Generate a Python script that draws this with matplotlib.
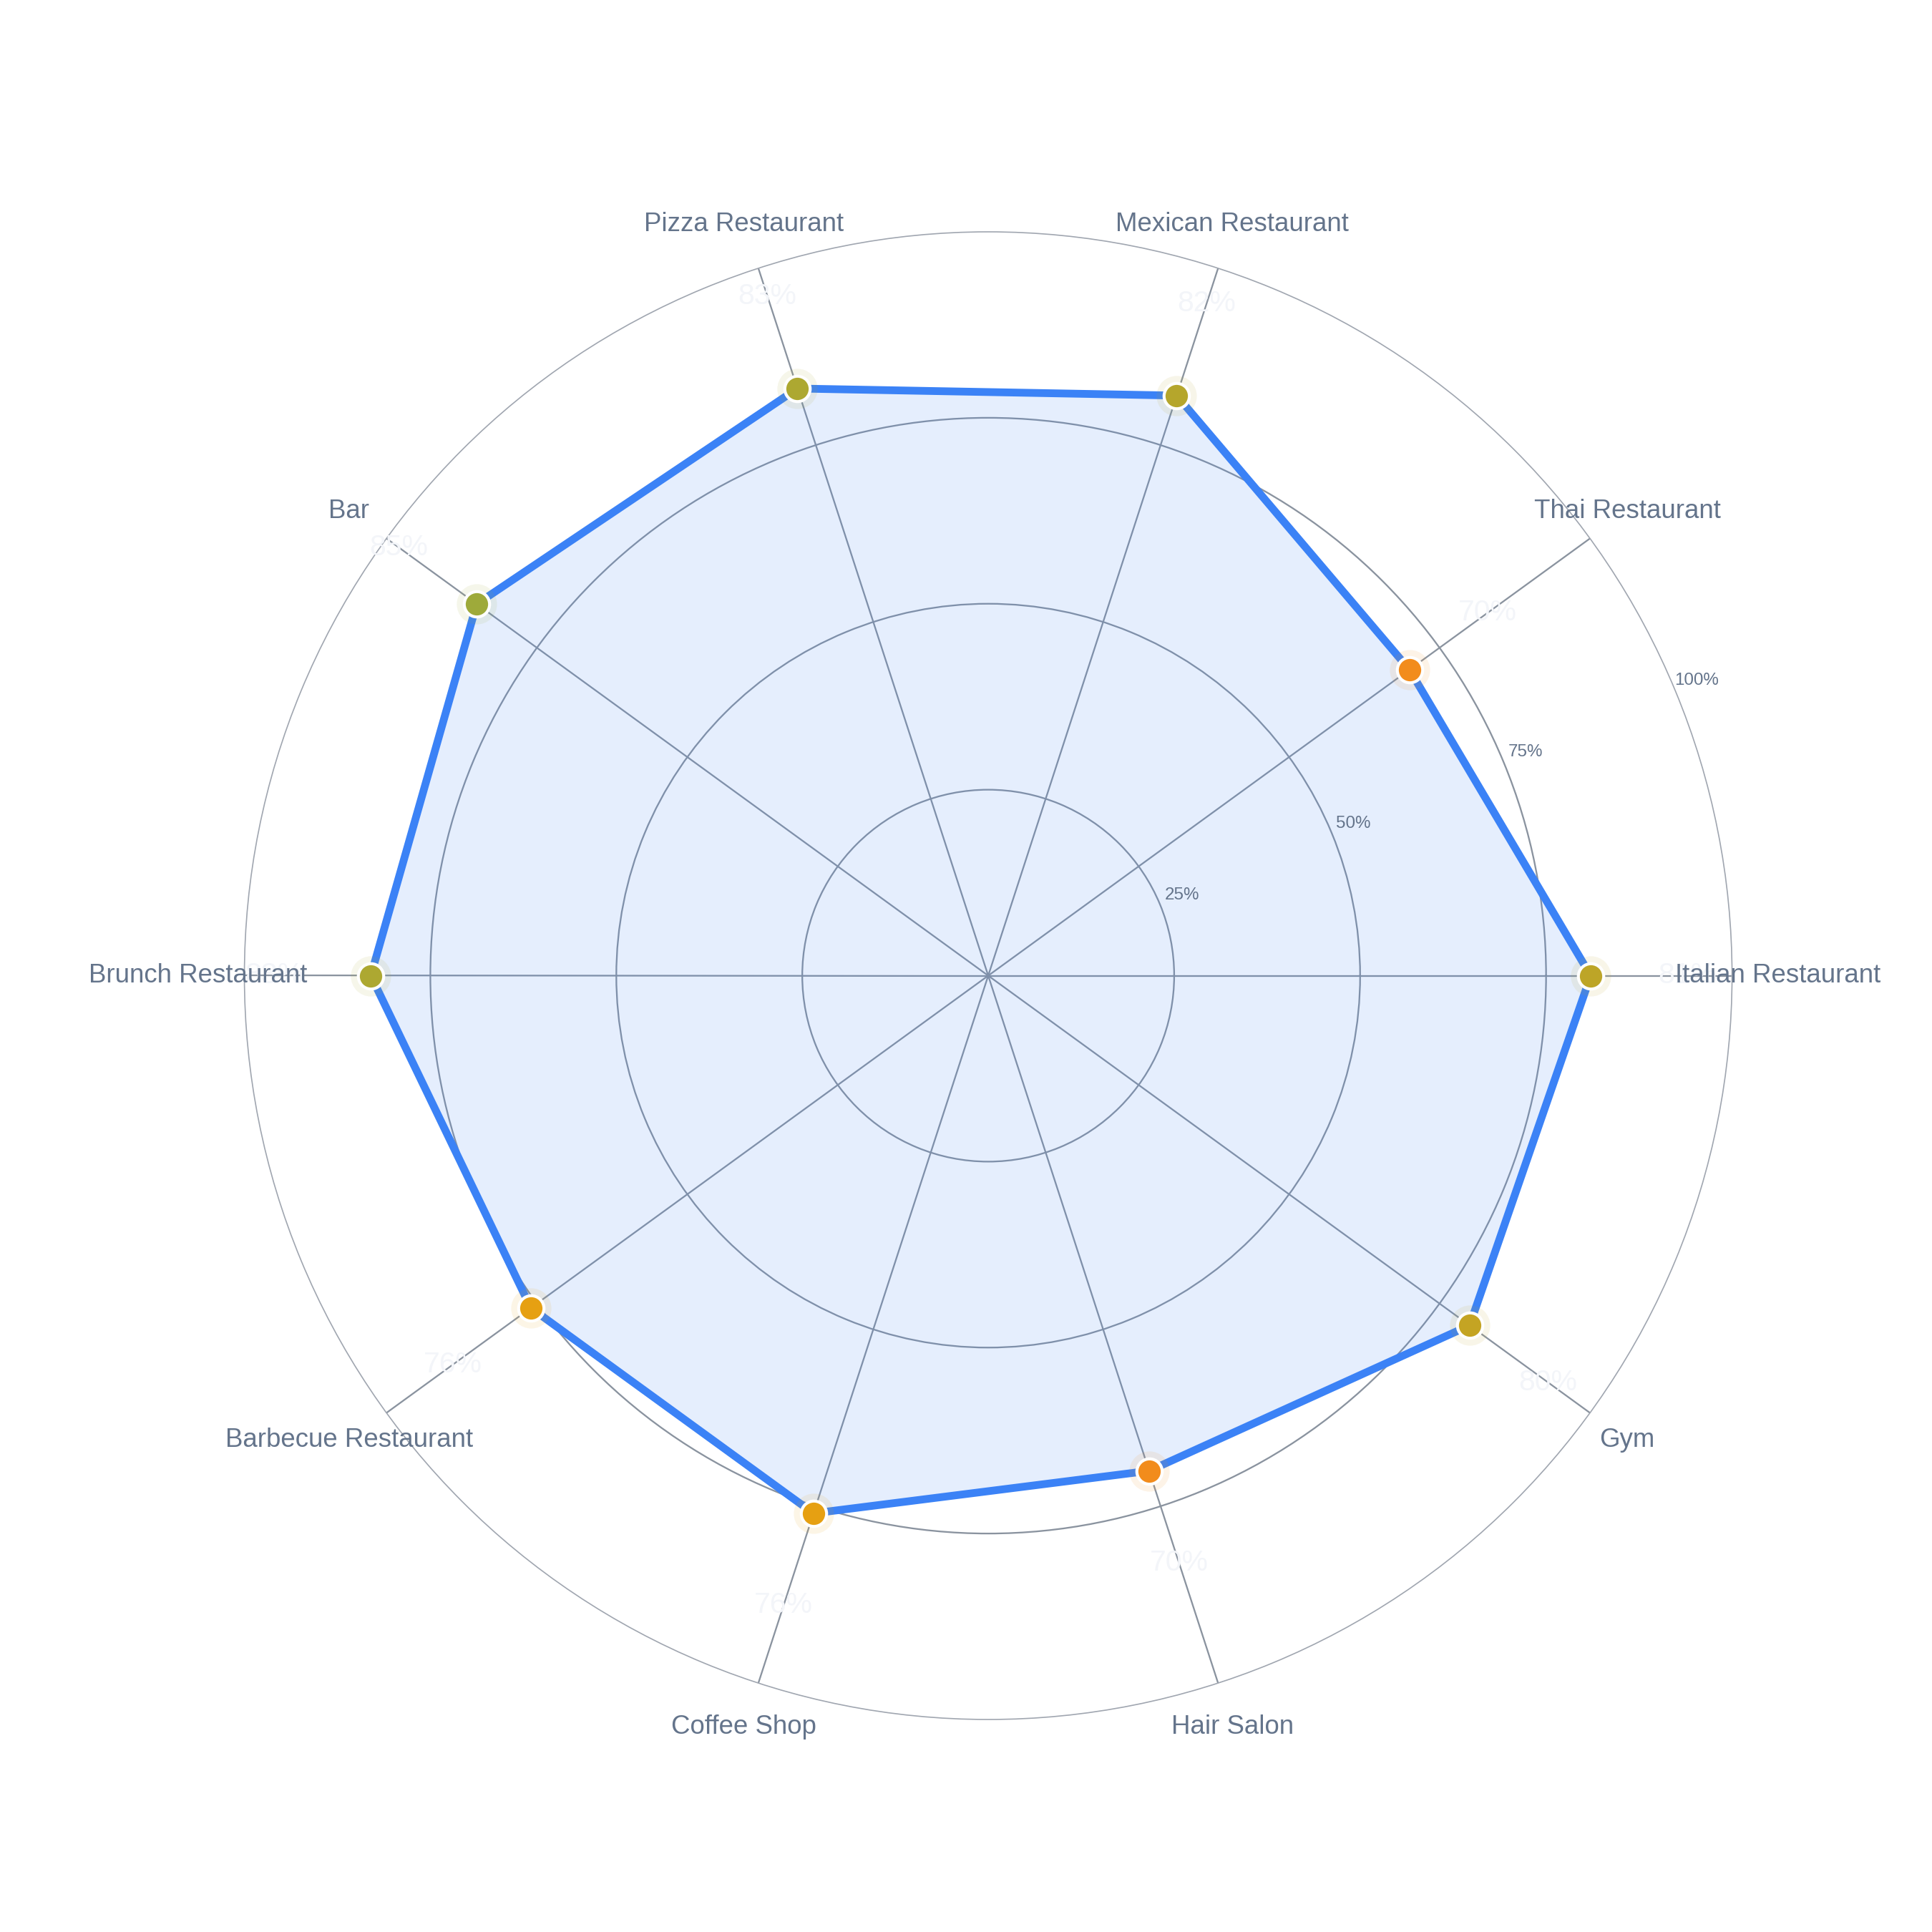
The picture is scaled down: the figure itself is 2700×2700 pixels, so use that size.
import numpy as np
import matplotlib
matplotlib.use("Agg")
import matplotlib.pyplot as plt
from matplotlib.colors import LinearSegmentedColormap

# data
categories = ["Italian Restaurant", "Thai Restaurant", "Mexican Restaurant",
              "Pizza Restaurant", "Bar", "Brunch Restaurant",
              "Barbecue Restaurant", "Coffee Shop", "Hair Salon", "Gym"]
values = [81, 70, 82, 83, 85, 83, 76, 76, 70, 80]
value_labels = ["81%", "70%", "82%", "83%", "85%", "83%", "76%", "76%", "70%", "80%"]
rticks = [25, 50, 75, 100]
rtick_labels = ["25%", "50%", "75%", "100%"]

plt.rcParams['font.family'] = ['Liberation Sans', 'DejaVu Sans']

txt_col = "#64748b"
grid_col = "#8a939f"
line_col = "#3b82f6"
# marker colours run from orange (low) to olive (high)
cmap = LinearSegmentedColormap.from_list(
    "score", [(0.0, "#f28c1c"), (0.4, "#e6a012"), (0.67, "#c4a423"), (1.0, "#9eaa3a")])

n = len(categories)
theta = np.deg2rad(np.arange(n) * 360.0 / n)
r = np.array(values) / 100.0
th_c = np.append(theta, theta[0])
r_c = np.append(r, r[0])

fig = plt.figure(figsize=(9, 9), dpi=300, facecolor="white")
ax = fig.add_axes([0.1265, 0.110, 0.770, 0.770], projection="polar")
ax.set_ylim(0, 1)
ax.set_theta_offset(0)

# grid
ax.set_yticks([t / 100 for t in rticks[:-1]])
ax.set_yticklabels([])
ax.set_thetagrids(np.rad2deg(theta), [""] * n)
ax.grid(True, color=grid_col, lw=0.55)
ax.spines["polar"].set_color("#a0a6b0")
ax.spines["polar"].set_linewidth(0.4)
ax.tick_params(axis="x", pad=0, length=0)

# radial labels
for t, lab in zip(rticks, rtick_labels):
    ax.text(np.deg2rad(22.6), t / 100 + 0.032, lab, ha="center", va="center",
            fontsize=5.8, color=txt_col)

# area and outline
ax.fill(th_c, r_c, color=line_col, alpha=0.13, lw=0, zorder=2)
ax.plot(th_c, r_c, color=line_col, lw=2.6, zorder=3, solid_joinstyle="round")

# markers with halo
norm = lambda v: (v - 70) / 15.0
for th, rv, v in zip(theta, r, values):
    c = cmap(norm(v))
    ax.plot(th, rv, "o", ms=13.5, color=c, alpha=0.1, mew=0, zorder=4)
    ax.plot(th, rv, "o", ms=8.5, color=c, mec="white", mew=1.0, zorder=5)

# faint value labels
for th, rv, lab in zip(theta, r, value_labels):
    ax.text(th, rv + 0.13, lab, ha="center", va="center", fontsize=9.8,
            color="#f3f5f9", zorder=6)

# category labels
for th, lab in zip(theta, categories):
    ax.text(th, 1.062, lab, ha="center", va="center", fontsize=8.8,
            color=txt_col, zorder=7)

fig.savefig("out.png", dpi=300, facecolor="white")
